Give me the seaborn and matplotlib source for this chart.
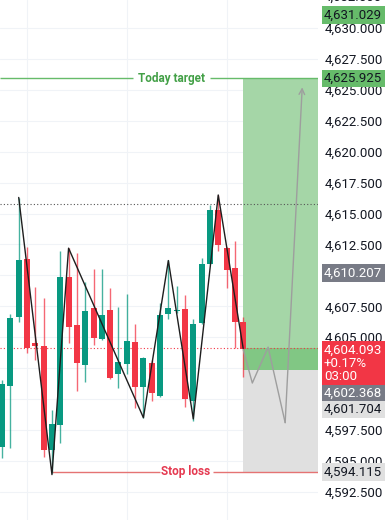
import matplotlib
matplotlib.use("Agg")
import matplotlib.pyplot as plt
import matplotlib.transforms as mtransforms
import numpy as np
import seaborn as sns

# candles, oldest first
opens = [4596.13, 4601.06, 4606.64, 4611.33, 4604.50, 4604.29, 4595.88, 4597.91,
         4609.87, 4605.99, 4602.76, 4607.36, 4604.86, 4607.20, 4602.03, 4602.84,
         4604.62, 4600.98, 4602.92, 4600.25, 4606.88, 4607.10, 4607.28, 4599.85,
         4606.15, 4610.92, 4615.29, 4612.21, 4610.60, 4606.23]
highs = [4601.54, 4606.88, 4616.26, 4612.30, 4609.06, 4608.17, 4599.12, 4611.97,
         4612.21, 4611.81, 4609.47, 4610.52, 4610.52, 4608.98, 4607.44, 4608.50,
         4606.07, 4603.40, 4603.16, 4607.77, 4611.24, 4609.14, 4608.42, 4606.48,
         4611.41, 4615.69, 4616.50, 4612.30, 4612.78, 4606.64]
lows = [4595.24, 4596.05, 4606.20, 4603.70, 4603.16, 4595.32, 4594.00, 4596.45,
        4604.54, 4600.65, 4601.38, 4604.37, 4604.80, 4601.60, 4600.90, 4602.00,
        4599.28, 4598.47, 4599.85, 4600.17, 4606.48, 4606.96, 4599.36, 4598.20,
        4606.10, 4610.90, 4611.97, 4608.98, 4604.13, 4601.79]
closes = [4601.22, 4606.56, 4611.24, 4604.13, 4604.30, 4595.88, 4597.99, 4609.87,
          4605.83, 4602.92, 4607.12, 4604.94, 4606.80, 4601.71, 4603.00, 4604.70,
          4600.98, 4603.32, 4600.49, 4606.80, 4607.36, 4607.20, 4600.01, 4606.07,
          4610.92, 4615.29, 4612.46, 4610.44, 4606.23, 4604.09]

# hand-drawn zigzag over the swings
swing_idx = [2, 6, 8, 17, 20, 23, 26, 29]
swing_price = [4616.3, 4593.9, 4612.2, 4598.5, 4611.2, 4598.4, 4616.5, 4604.1]

# projected path to the target
proj_idx = [29, 30.1, 32, 34.05]
proj_price = [4604.0, 4601.3, 4604.2, 4598.1]
arrow_tip = (36.1, 4625.2)

target = 4625.925
stop = 4594.115
entry = 4602.368
last_price = 4604.093
change_pct = "+0.17%"
countdown = "03:00"
day_high = 4615.77
top_price = 4631.029
marker_price = 4610.207
alt_price = 4601.704

tick_values = np.arange(4592.5, 4631, 2.5)
# these two sit fully under price boxes on the screenshot
hidden_ticks = [4610.0, 4600.0]

UP = "#089981"
DOWN = "#f23645"
TXT = "#131722"

sns.set_theme(style="white")
plt.rcParams["font.family"] = ["Roboto", "DejaVu Sans"]

fig = plt.figure(figsize=(3.89, 5.20), dpi=100)
ax = fig.add_axes([0, 0, 318 / 389, 1])
ax.set_xlim(-0.25, 38.0)
ax.set_ylim(4590.23, 4632.26)

# grid
for v in tick_values:
    ax.axhline(v, color="#f0f3f7", lw=0.8, zorder=0)
for xg in [3, 15, 27]:
    ax.axvline(xg, color="#f0f3f7", lw=0.8, zorder=0)

# position boxes
ax.fill_between([29, 38], entry, target, color="#a5d6a7", lw=0, zorder=1)
ax.fill_between([29, 38], entry, last_price, color="#81c784", lw=0, zorder=1)
ax.fill_between([29, 38], stop, entry, color="#e0e0e0", lw=0, zorder=1)

# dotted references
ax.axhline(day_high, color="#555555", lw=0.8, ls=(0, (1, 2)), zorder=1.5)
ax.axhline(last_price, color=DOWN, lw=0.8, ls=(0, (1, 2)), zorder=1.5)

# target / stop lines with labels
ax.hlines(target, -0.25, 15.76, color="#66bb6a", lw=1, zorder=2)
ax.hlines(target, 25.03, 38, color="#66bb6a", lw=1, zorder=2)
ax.text(20.4, target, "Today target", color="#43a047", fontsize=8.5,
        fontweight="bold", ha="center", va="center", zorder=4)
ax.hlines(stop, 6, 19.0, color="#e57373", lw=1, zorder=2)
ax.hlines(stop, 25.4, 38, color="#e57373", lw=1, zorder=2)
ax.text(22.1, stop, "Stop loss", color="#e53950", fontsize=8.5,
        fontweight="bold", ha="center", va="center", zorder=4)

# candles
idx = np.arange(len(opens))
o = np.array(opens)
c = np.array(closes)
colors = [UP if cc >= oo else DOWN for oo, cc in zip(o, c)]
ax.vlines(idx, lows, highs, colors=colors, lw=1, alpha=0.75, zorder=2.5)
body_low = np.minimum(o, c)
body_h = np.maximum(np.abs(c - o), 0.12)
ax.bar(idx, body_h, bottom=body_low, width=0.72, color=colors, lw=0, zorder=2.6)

# zigzag and projection
sns.lineplot(x=swing_idx, y=swing_price, ax=ax, color="#1e1e1e", lw=1, zorder=3)
sns.lineplot(x=proj_idx, y=proj_price, ax=ax, color="#9e9e9e", lw=1, zorder=3)
ax.annotate("", xy=arrow_tip, xytext=(proj_idx[-1], proj_price[-1]),
            arrowprops=dict(arrowstyle="->", color="#9e9e9e", lw=1,
                            mutation_scale=10, shrinkA=0, shrinkB=0), zorder=3)

# price scale
for s in ax.spines.values():
    s.set_visible(False)
ax.set_xticks([])
ax.yaxis.tick_right()
shown = [v for v in tick_values if v not in hidden_ticks]
ax.set_yticks(shown)
ax.set_yticklabels([f"{v:,.3f}" for v in shown])
ax.tick_params(axis="y", length=0, pad=4.5, labelsize=9.5, labelcolor=TXT)
ax.grid(False)

tr = mtransforms.blended_transform_factory(fig.transFigure, ax.transData)
lx = 324 / 389


def price_box(y, text, face, color):
    ax.text(lx, y, text, transform=tr, fontsize=9.5, color=color, ha="left",
            va="center", clip_on=False, zorder=5, linespacing=1.05,
            bbox=dict(boxstyle="square,pad=0.18", fc=face, ec="none"))


ax.text(lx, 4632.5, "4,632.500", transform=tr, fontsize=9.5, color=TXT,
        ha="left", va="center", clip_on=False)
price_box(top_price, f"{top_price:,.3f}", "#66bb6a", TXT)
price_box(target, f"{target:,.3f}", "#66bb6a", TXT)
price_box(marker_price, f"{marker_price:,.3f}", "#787b86", "white")
price_box(4602.88, f"{last_price:,.3f}\n{change_pct}\n{countdown}", DOWN, "white")
price_box(4600.45, f"{entry:,.3f}", "#787b86", "white")
price_box(4599.16, f"{alt_price:,.3f}", "#e0e0e0", TXT)
price_box(stop, f"{stop:,.3f}", "#e0e0e0", TXT)

fig.savefig("out.png", dpi=100)
